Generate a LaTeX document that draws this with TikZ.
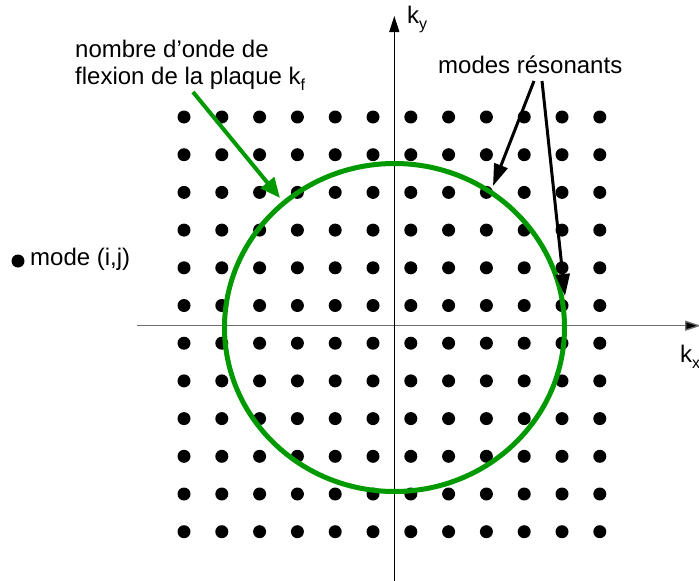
\documentclass[tikz,border=0pt]{standalone}
\usepackage{fontspec}
\setmainfont{Liberation Sans}
\usetikzlibrary{arrows.meta}
\definecolor{circgreen}{RGB}{0,153,0}
\definecolor{axgray}{RGB}{110,110,110}
\tikzset{
  lbl/.style={anchor=base west, inner sep=0pt, font=\fontsize{24}{27}\selectfont},
  dotmark/.style={fill=black},
  axisline/.style={line width=1.3pt, -{Triangle[length=16pt,width=10pt]}},
  greenarrow/.style={draw=circgreen, line width=4pt, -{Triangle[length=20pt,width=17pt]}},
  blackarrow/.style={draw=black, line width=3pt, -{Triangle[length=22pt,width=14pt]}},
}
\newcommand{\subtxt}[1]{\raisebox{-0.28em}{\fontsize{16}{16}\selectfont #1}}
\begin{document}
\begin{tikzpicture}[x=1pt,y=-1pt]
\useasboundingbox (0,0) rectangle (699,581);
% dots
\foreach \i in {0,...,11}{
  \foreach \j in {0,...,11}{
    \fill[dotmark] ({184+37.8*\i},{117+37.7*\j}) circle (6.5);
  }
}
% axes
\coordinate (xs) at (137,325.7);
\coordinate (xe) at (701,325.7);
\coordinate (ys) at (394.3,581);
\coordinate (ye) at (394.3,16);
\draw[axisline, draw=axgray, -{Triangle[length=16pt,width=10pt,fill=black]}] (xs) -- (xe);
\draw[axisline] (ys) -- (ye);
\node[lbl] (ky) at (407,23) {k\subtxt{y}};
\node[lbl] (kx) at (680,362) {k\subtxt{x}};
% circle
\draw[circgreen, line width=5pt] (394.5,327.5) ellipse [x radius=170, y radius=164];
% labels
\node[lbl] (kf1) at (75,57) {nombre d’onde de};
\node[lbl] (kf2) at (75,84) {flexion de la plaque k\subtxt{f}};
\node[lbl] (res) at (438,73) {modes résonants};
\node[lbl] (mode) at (30,265) {mode (i,j)};
\fill (18,261) circle (6.5);
% arrows
\coordinate (g0) at (193,92);
\coordinate (g1) at (280,198);
\draw[greenarrow] (g0) -- (g1);
\coordinate (b0) at (534,81);
\coordinate (b1) at (493,186);
\coordinate (c0) at (542,81);
\coordinate (c1) at (565,296);
\draw[blackarrow] (b0) -- (b1);
\draw[blackarrow] (c0) -- (c1);
\end{tikzpicture}
\end{document}
